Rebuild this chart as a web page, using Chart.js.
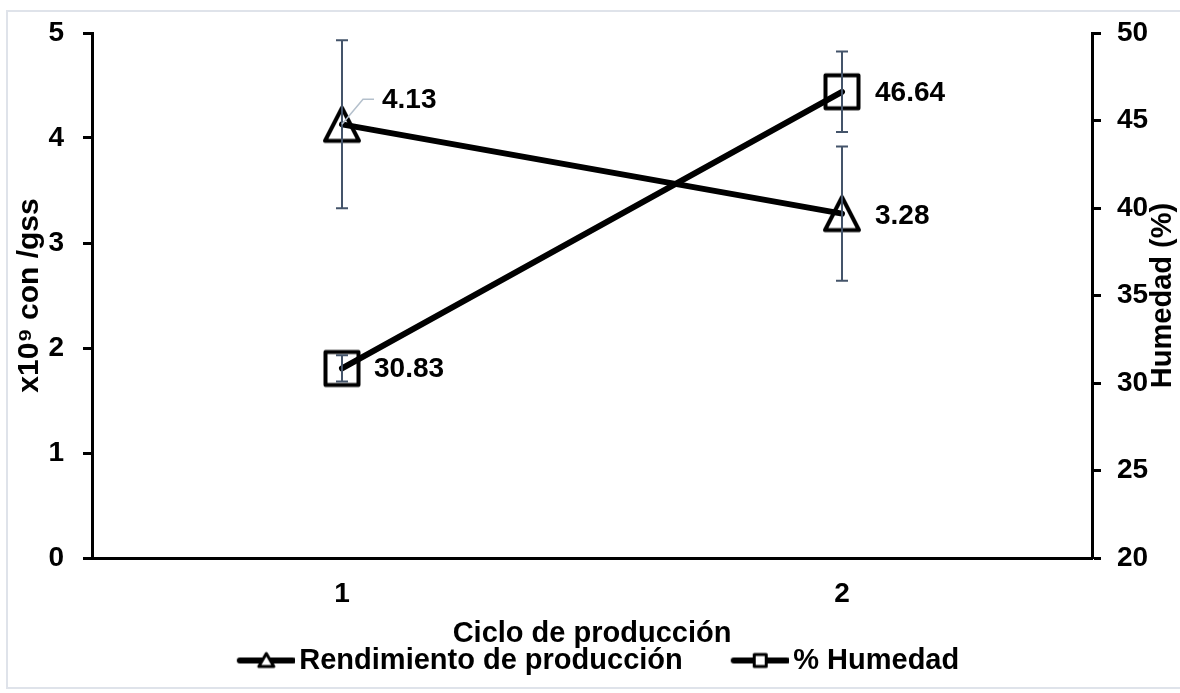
<!DOCTYPE html>
<html>
<head>
<meta charset="utf-8">
<script src="https://cdn.jsdelivr.net/npm/chart.js@4.4.1/dist/chart.umd.min.js"></script>
<style>
  html, body { margin: 0; padding: 0; background: #ffffff; }
  #wrap { width: 1180px; height: 693px; position: relative; }
</style>
</head>
<body>
<div id="wrap"><canvas id="c" width="1180" height="693"></canvas></div>
<script>
// Production cycles and measured values
const ciclos = ['1', '2'];
const rendimiento = [4.13, 3.28];        // x10^9 con /gss
const rendimientoErr = [0.80, 0.64];
const humedad = [30.83, 46.64];          // %
const humedadErr = [0.75, 2.30];
const leftTicks = [0, 1, 2, 3, 4, 5];
const rightTicks = [20, 25, 30, 35, 40, 45, 50];

const FONT = "'Liberation Sans', Arial, Helvetica, sans-serif";
const ERR_COLOR = '#44546a';

// Marker images (white fill, black outline)
function evenCeil(v) { const n = Math.ceil(v); return n % 2 ? n + 1 : n; }
function triangleImg(w, h, lw) {
  const c = document.createElement('canvas');
  c.width = evenCeil(w + lw * 2); c.height = evenCeil(h + lw * 2);
  const g = c.getContext('2d');
  const cx = c.width / 2, cy = c.height / 2;
  g.beginPath();
  g.moveTo(cx, cy - h / 2);
  g.lineTo(cx + w / 2, cy + h / 2);
  g.lineTo(cx - w / 2, cy + h / 2);
  g.closePath();
  g.fillStyle = '#fff'; g.fill();
  g.lineWidth = lw; g.lineJoin = 'round'; g.strokeStyle = '#000'; g.stroke();
  return c;
}
function squareImg(s, lw) {
  const c = document.createElement('canvas');
  c.width = c.height = evenCeil(s + lw * 2);
  const g = c.getContext('2d');
  const o = (c.width - s) / 2;
  g.beginPath(); g.rect(o, o, s, s);
  g.fillStyle = '#fff'; g.fill();
  g.lineWidth = lw; g.lineJoin = 'round'; g.strokeStyle = '#000'; g.stroke();
  return c;
}
// Legend icon: thick line with a small marker in its middle
function legendIcon(kind) {
  const c = document.createElement('canvas');
  c.width = 106; c.height = 30;
  const g = c.getContext('2d');
  const x0 = 51, x1 = 104, cy = 15, mx = (x0 + x1) / 2;
  g.beginPath(); g.moveTo(x0, cy); g.lineTo(x1, cy);
  g.lineWidth = 6; g.lineCap = 'round'; g.strokeStyle = '#000'; g.stroke();
  g.beginPath();
  if (kind === 'triangle') {
    g.moveTo(mx, cy - 7); g.lineTo(mx + 7.5, cy + 6); g.lineTo(mx - 7.5, cy + 6); g.closePath();
  } else {
    g.rect(mx - 6, cy - 6, 12, 12);
  }
  g.fillStyle = '#fff'; g.fill();
  g.lineWidth = 3; g.lineJoin = 'round'; g.stroke();
  return c;
}

const triMarker = triangleImg(34, 33, 4);
const sqMarker = squareImg(33, 4);
const triLegend = legendIcon('triangle');
const sqLegend = legendIcon('square');

// Value label placement (offsets from the point, in px)
const labelStyle = {
  0: [{ dx: 40, dy: -24, leader: true }, { dx: 33, dy: 3 }],
  1: [{ dx: 32, dy: 1 }, { dx: 33, dy: 1 }]
};

const errorBars = {
  id: 'errorBars',
  afterDatasetsDraw(chart) {
    const ctx = chart.ctx;
    const series = [
      { meta: chart.getDatasetMeta(0), vals: rendimiento, err: rendimientoErr, scale: chart.scales.y },
      { meta: chart.getDatasetMeta(1), vals: humedad, err: humedadErr, scale: chart.scales.y1 }
    ];
    ctx.save();
    ctx.strokeStyle = ERR_COLOR; ctx.lineWidth = 2;
    series.forEach(s => {
      s.meta.data.forEach((pt, i) => {
        const top = s.scale.getPixelForValue(s.vals[i] + s.err[i]);
        const bot = s.scale.getPixelForValue(s.vals[i] - s.err[i]);
        const x = Math.round(pt.x);
        ctx.beginPath();
        ctx.moveTo(x, top); ctx.lineTo(x, bot);
        ctx.moveTo(x - 6, top); ctx.lineTo(x + 6, top);
        ctx.moveTo(x - 6, bot); ctx.lineTo(x + 6, bot);
        ctx.stroke();
      });
    });
    ctx.restore();
  }
};

const valueLabels = {
  id: 'valueLabels',
  afterDatasetsDraw(chart) {
    const ctx = chart.ctx;
    const sets = [rendimiento, humedad];
    ctx.save();
    sets.forEach((vals, di) => {
      const meta = chart.getDatasetMeta(di);
      meta.data.forEach((pt, i) => {
        const st = labelStyle[di][i];
        if (st.leader) {
          ctx.beginPath();
          ctx.moveTo(pt.x, pt.y);
          ctx.lineTo(pt.x + 21, pt.y - 25);
          ctx.lineTo(pt.x + 32, pt.y - 25);
          ctx.strokeStyle = '#b4c0cc'; ctx.lineWidth = 1.5; ctx.stroke();
        }
        ctx.font = 'bold 28px ' + FONT;
        ctx.fillStyle = '#000';
        ctx.textAlign = 'left'; ctx.textBaseline = 'middle';
        ctx.fillText(vals[i].toFixed(2), pt.x + st.dx, pt.y + st.dy);
      });
    });
    ctx.restore();
  }
};

const rightTitle = {
  id: 'rightTitle',
  afterDraw(chart) {
    const ctx = chart.ctx, a = chart.chartArea;
    ctx.save();
    ctx.translate(1163, (a.top + a.bottom) / 2);
    ctx.rotate(-Math.PI / 2);
    ctx.font = 'bold 29px ' + FONT;
    ctx.fillStyle = '#000'; ctx.textAlign = 'center'; ctx.textBaseline = 'middle';
    ctx.fillText('Humedad (%)', 0, 0);
    ctx.restore();
  }
};

const frame = {
  id: 'frame',
  beforeDraw(chart) {
    const ctx = chart.ctx;
    ctx.save();
    ctx.fillStyle = '#fff';
    ctx.fillRect(0, 0, chart.width, chart.height);
    ctx.strokeStyle = '#dfe3ea'; ctx.lineWidth = 2;
    ctx.strokeRect(7, 11, 1200, 677);
    ctx.restore();
  }
};

const tickFont = { family: FONT, size: 28, weight: 'bold', lineHeight: 1 };
const titleFont = { family: FONT, size: 29, weight: 'bold', lineHeight: 1 };

new Chart(document.getElementById('c'), {
  type: 'line',
  data: {
    labels: ciclos,
    datasets: [
      { label: 'Rendimiento de producción', data: rendimiento, yAxisID: 'y', order: 0,
        borderColor: '#000', borderWidth: 6, borderCapStyle: 'round', pointRadius: 0, fill: false },
      { label: '% Humedad', data: humedad, yAxisID: 'y1', order: 1,
        borderColor: '#000', borderWidth: 6, borderCapStyle: 'round', pointRadius: 0, fill: false },
      { label: 'Rendimiento de producción', data: rendimiento, yAxisID: 'y', order: 2,
        showLine: false, pointStyle: triMarker, pointRadius: 19 },
      { label: '% Humedad', data: humedad, yAxisID: 'y1', order: 3,
        showLine: false, pointStyle: sqMarker, pointRadius: 19 }
    ]
  },
  options: {
    responsive: false,
    animation: false,
    devicePixelRatio: 1,
    layout: { padding: { top: 30, left: 0, right: 22, bottom: 8 } },
    plugins: {
      tooltip: { enabled: false },
      legend: {
        display: true,
        position: 'bottom',
        labels: {
          usePointStyle: true,
          pointStyleWidth: 86,
          padding: 10,
          color: '#000',
          font: titleFont,
          generateLabels: () => [
            { text: 'Rendimiento de producción', pointStyle: triLegend, fillStyle: '#fff', strokeStyle: '#000', lineWidth: 0, hidden: false, datasetIndex: 0, fontColor: '#000' },
            { text: '% Humedad', pointStyle: sqLegend, fillStyle: '#fff', strokeStyle: '#000', lineWidth: 0, hidden: false, datasetIndex: 1, fontColor: '#000' }
          ]
        }
      }
    },
    scales: {
      x: {
        type: 'category',
        offset: true,
        grid: { display: false, drawTicks: false },
        border: { display: true, color: '#000', width: 3 },
        ticks: { color: '#000', font: tickFont, padding: 22, maxRotation: 0 },
        title: { display: true, text: 'Ciclo de producción', color: '#000', font: titleFont, padding: { top: 0, bottom: -12.5 } },
        afterFit: s => { s.height = 78; }
      },
      y: {
        position: 'left',
        min: 0, max: 5,
        afterBuildTicks: s => { s.ticks = leftTicks.map(v => ({ value: v })); },
        grid: { display: true, drawOnChartArea: false, drawTicks: true, tickLength: 9, tickWidth: 3, tickColor: '#000' },
        border: { display: true, color: '#000', width: 3 },
        ticks: { color: '#000', font: tickFont, padding: 19 },
        title: { display: true, text: 'x10⁹ con /gss', color: '#000', font: { family: FONT, size: 30, weight: 'bold', lineHeight: 1 }, padding: { top: 15, bottom: 0 } },
        afterFit: s => { s.width = 92; }
      },
      y1: {
        position: 'right',
        min: 20, max: 50,
        afterBuildTicks: s => { s.ticks = rightTicks.map(v => ({ value: v })); },
        grid: { display: true, drawOnChartArea: false, drawTicks: true, tickLength: 9, tickWidth: 3, tickColor: '#000' },
        border: { display: true, color: '#000', width: 3 },
        ticks: { color: '#000', font: tickFont, padding: 16 },
        title: { display: false },
        afterFit: s => { s.width = 66; }
      }
    }
  },
  plugins: [frame, errorBars, valueLabels, rightTitle]
});
</script>
</body>
</html>
